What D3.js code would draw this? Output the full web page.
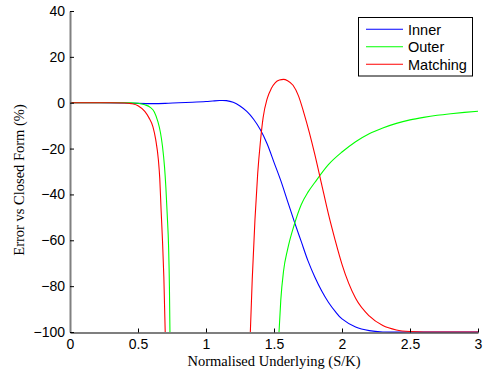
<!DOCTYPE html>
<html><head><meta charset="utf-8">
<script src="https://cdn.jsdelivr.net/npm/d3@7"></script>
<style>body{margin:0;background:#fff}svg{display:block}</style>
</head><body>
<svg id="c" width="493" height="374"></svg>
<script>
const xTicks = [0, 0.5, 1, 1.5, 2, 2.5, 3];
const yTicks = [-100, -80, -60, -40, -20, 0, 20, 40];
const seriesNames = ["Inner", "Outer", "Matching"];
const seriesColors = ["#0000ff", "#00ff00", "#ff0000"];

const innerX = [0,0.2,0.4,0.5,0.6,0.7,0.8,0.9,1.0,1.05,1.1,1.15,1.2,1.25,1.3,1.35,1.4,1.45,1.5,1.55,1.6,1.65,1.7,1.75,1.8,1.85,1.9,1.95,2.0,2.1,2.2,2.3,2.5,3.0];
const innerY = [0,0,-0.1,-0.3,-0.4,-0.3,0,0.2,0.5,0.75,0.95,0.9,0.2,-1.4,-3.8,-7.2,-11.8,-18,-26,-34,-43,-52,-60.5,-69,-76,-82,-87,-91,-94.3,-97.8,-99.4,-100,-100,-100];

const outerX1 = [0,0.3,0.4,0.45,0.5,0.55,0.59,0.62,0.645,0.665,0.68,0.695,0.705,0.715,0.725,0.731,0.735];
const outerY1 = [0,0,0,-0.05,-0.25,-0.9,-2,-4,-8,-13,-19,-28,-37,-49,-63,-80,-100];
const outerX2 = [1.537,1.55,1.57,1.6,1.65,1.7,1.75,1.8,1.9,2.0,2.1,2.2,2.3,2.4,2.5,2.6,2.7,2.8,2.9,3.0];
const outerY2 = [-100,-86,-73.5,-64,-53,-44.5,-39,-34.8,-27,-21.5,-17,-13.5,-11,-9,-7.5,-6.4,-5.5,-4.8,-4.2,-3.7];

const matchX1 = [0,0.2,0.3,0.4,0.45,0.5,0.55,0.58,0.61,0.63,0.65,0.66,0.67,0.68,0.69,0.70];
const matchY1 = [0,0,0,-0.1,-0.4,-1.3,-3.8,-6.5,-10.5,-16,-25,-33,-47,-60,-76,-100];
const matchX2 = [1.326,1.34,1.36,1.38,1.40,1.42,1.45,1.48,1.51,1.54,1.57,1.60,1.64,1.68,1.72,1.76,1.80,1.85,1.90,1.95,2.0,2.1,2.2,2.3,2.4,2.5,2.6,3.0];
const matchY2 = [-100,-77,-51,-31,-17,-6.5,1.8,6.2,8.8,9.9,10.2,9.6,7.6,3,-4.5,-13,-22.5,-35.5,-48.5,-60,-70.5,-85.3,-93,-97.2,-99.1,-99.8,-100,-100];

const svg = d3.select("#c");
const L = 70, R = 478, T = 11, B = 332;
const x = d3.scaleLinear().domain([0, 3]).range([L, R]);
const y = d3.scaleLinear().domain([-100, 40]).range([B, T]);

svg.append("defs").append("clipPath").attr("id","clip")
  .append("rect").attr("x", L).attr("y", T-1).attr("width", R-L+1).attr("height", B-T+1.5);

const zip = (xs, ys) => xs.map((v, i) => [v, ys[i]]);
const lineM = d3.line().x(d => x(d[0])).y(d => y(d[1])).curve(d3.curveMonotoneX);
const lineC = d3.line().x(d => x(d[0])).y(d => y(d[1])).curve(d3.curveCatmullRom.alpha(0.5));

const segs = [
  [zip(innerX, innerY), 0, lineC],
  [zip(outerX1, outerY1), 1, lineM],
  [zip(outerX2, outerY2), 1, lineM],
  [zip(matchX1, matchY1), 2, lineM],
  [zip(matchX2, matchY2), 2, lineM]
];
const g = svg.append("g").attr("clip-path", "url(#clip)");
segs.forEach(([d, k, ln]) => {
  g.append("path").attr("d", ln(d)).attr("fill", "none")
    .attr("stroke", seriesColors[k]).attr("stroke-width", 1.1);
});

const fmt = d => (d < 0 ? "\u2212" + Math.abs(d) : String(d));
const ax = svg.append("g").attr("transform", `translate(0,${B + 0.5})`)
  .call(d3.axisBottom(x).tickValues(xTicks).tickSizeInner(-4).tickSizeOuter(0).tickPadding(7).tickFormat(fmt));
const ay = svg.append("g").attr("transform", `translate(${L},0)`)
  .call(d3.axisLeft(y).tickValues(yTicks).tickSizeInner(-4).tickSizeOuter(0).tickPadding(5).tickFormat(fmt));
[ax, ay].forEach(a => {
  a.selectAll("text").attr("font-family", "Liberation Sans, Arial, sans-serif").attr("font-size", 14).attr("fill", "#000");
  a.selectAll("line").attr("stroke", "#000");
});
ax.select(".domain").attr("stroke", "#000").attr("stroke-width", 1.2);
ay.select(".domain").attr("stroke", "#808080").attr("stroke-width", 2);

svg.append("text").attr("x", 274).attr("y", 366).attr("text-anchor", "middle")
  .attr("font-family", "Liberation Serif, Times New Roman, serif").attr("font-size", 14.5)
  .text("Normalised Underlying (S/K)");
svg.append("text").attr("transform", "translate(24,180) rotate(-90)").attr("text-anchor", "middle")
  .attr("font-family", "Liberation Serif, Times New Roman, serif").attr("font-size", 14.5)
  .text("Error vs Closed Form (%)");

const lg = svg.append("g");
lg.append("rect").attr("x", 358.5).attr("y", 17.5).attr("width", 114).attr("height", 58.5)
  .attr("fill", "#fff").attr("stroke", "#000").attr("stroke-width", 1);
seriesNames.forEach((n, i) => {
  const yy = 29.3 + i * 17.5;
  lg.append("line").attr("x1", 366).attr("x2", 403).attr("y1", yy).attr("y2", yy)
    .attr("stroke", seriesColors[i]).attr("stroke-width", 1.1);
  lg.append("text").attr("x", 408).attr("y", yy).attr("dy", "0.36em")
    .attr("font-family", "Liberation Sans, Arial, sans-serif").attr("font-size", 14.5).text(n);
});
</script>
</body></html>
